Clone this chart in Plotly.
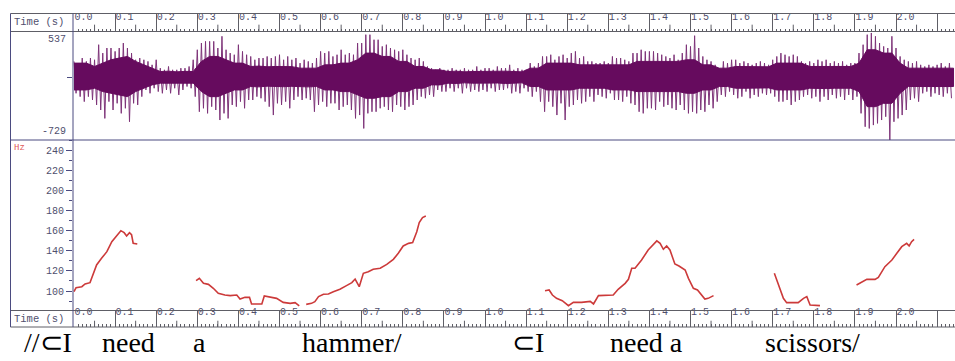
import plotly.graph_objects as go

W, H = 955, 361

# ---------------- data ----------------
# Waveform spike extremes, one pair per 10 ms bin (sample units)
spike_top = [
    188, 168, 227, 188, 227, 207, 383, 285, 344, 344,
    305, 344, 402, 344, 285, 207, 227, 207, 188, 148,
    207, 109, 90, 129, 90, 90, 109, 109, 129, 207,
    324, 402, 422, 422, 422, 344, 481, 324, 285, 266,
    383, 305, 266, 246, 207, 227, 227, 246, 227, 246,
    266, 207, 246, 207, 227, 168, 207, 188, 168, 227,
    305, 285, 305, 246, 266, 324, 266, 285, 266, 402,
    402, 500, 500, 441, 441, 363, 383, 344, 324, 305,
    324, 266, 227, 207, 227, 188, 129, 109, 90, 109,
    90, 90, 109, 90, 90, 109, 90, 90, 129, 90,
    109, 109, 90, 129, 109, 109, 148, 90, 109, 90,
    90, 168, 129, 168, 246, 246, 266, 207, 246, 266,
    227, 285, 305, 227, 246, 188, 188, 168, 168, 188,
    168, 246, 227, 227, 207, 188, 285, 285, 324, 305,
    305, 305, 285, 266, 246, 227, 266, 207, 285, 383,
    363, 488, 344, 246, 207, 188, 148, 109, 188, 168,
    207, 207, 168, 188, 168, 148, 168, 188, 168, 148,
    207, 246, 285, 266, 246, 266, 246, 188, 168, 188,
    168, 207, 188, 207, 168, 188, 168, 188, 148, 168,
    168, 285, 383, 500, 520, 481, 402, 363, 344, 481,
    344, 246, 207, 188, 168, 188, 148, 129, 148, 129,
    148, 168, 129, 168,
]
spike_bot = [
    -184, -223, -281, -223, -262, -320, -379, -477, -281, -379,
    -301, -418, -359, -516, -301, -320, -223, -145, -184, -125,
    -164, -184, -145, -184, -125, -203, -145, -105, -125, -223,
    -399, -359, -418, -340, -379, -496, -418, -477, -320, -340,
    -281, -359, -262, -262, -223, -242, -281, -340, -438, -301,
    -320, -281, -359, -262, -223, -262, -242, -262, -399, -320,
    -281, -340, -301, -301, -379, -340, -320, -379, -477, -438,
    -594, -418, -399, -399, -359, -340, -379, -399, -320, -340,
    -379, -340, -320, -262, -223, -242, -203, -223, -145, -164,
    -164, -125, -164, -125, -184, -125, -164, -145, -164, -145,
    -164, -125, -164, -145, -145, -125, -184, -164, -184, -125,
    -164, -223, -164, -281, -399, -281, -340, -438, -301, -496,
    -340, -320, -262, -301, -281, -223, -281, -203, -223, -242,
    -184, -262, -262, -281, -223, -301, -320, -399, -418, -359,
    -359, -379, -281, -340, -320, -359, -379, -320, -379, -418,
    -399, -418, -379, -399, -320, -359, -281, -203, -223, -164,
    -203, -242, -223, -164, -242, -203, -223, -184, -203, -184,
    -223, -281, -281, -262, -320, -281, -262, -223, -203, -242,
    -223, -281, -223, -262, -203, -242, -223, -262, -203, -262,
    -223, -418, -574, -594, -555, -535, -496, -457, -729, -516,
    -477, -438, -379, -262, -242, -281, -184, -164, -223, -184,
    -203, -223, -184, -242,
]
# Dense core of the waveform, one pair per 20 ms bin
core_top = [
    168, 168, 129, 168, 207, 227, 246, 188, 148, 109,
    70, 74, 66, 72, 70, 188, 246, 246, 207, 168,
    168, 129, 133, 125, 129, 131, 127, 109, 113, 109,
    148, 148, 168, 168, 207, 285, 285, 246, 246, 188,
    188, 129, 129, 90, 90, 70, 74, 66, 70, 72,
    70, 68, 74, 70, 66, 109, 109, 168, 168, 168,
    168, 148, 148, 152, 148, 144, 148, 148, 188, 188,
    188, 188, 188, 188, 207, 207, 148, 148, 109, 109,
    129, 129, 133, 129, 125, 168, 168, 168, 168, 129,
    129, 133, 129, 125, 129, 168, 324, 324, 285, 285,
    168, 109, 109, 113, 109, 105, 109,
]
core_bot = [
    -145, -145, -125, -164, -184, -203, -223, -164, -125, -86,
    -66, -70, -62, -68, -66, -164, -223, -223, -184, -145,
    -145, -105, -109, -101, -105, -107, -103, -105, -109, -105,
    -145, -145, -164, -164, -203, -242, -242, -223, -223, -164,
    -164, -125, -125, -86, -86, -66, -70, -62, -66, -68,
    -66, -64, -70, -66, -62, -105, -105, -145, -145, -145,
    -145, -125, -125, -129, -125, -145, -145, -145, -164, -164,
    -164, -164, -164, -164, -184, -184, -145, -145, -105, -105,
    -125, -125, -129, -125, -121, -145, -145, -145, -145, -125,
    -125, -129, -125, -121, -125, -164, -340, -340, -301, -301,
    -184, -105, -105, -109, -105, -101, -105,
]
wave_min, wave_max = -729, 537

# Pitch track (F0), one list per voiced stretch
f0_time = [
    [0.000, 0.005, 0.019, 0.027, 0.039, 0.045, 0.055, 0.067, 0.080, 0.092,
     0.104, 0.114, 0.122, 0.128, 0.135, 0.140, 0.144, 0.154],
    [0.297, 0.305, 0.315, 0.327, 0.339, 0.351, 0.367, 0.380, 0.396, 0.404,
     0.416, 0.427, 0.432, 0.457, 0.463, 0.477, 0.493, 0.509, 0.526, 0.538, 0.548],
    [0.565, 0.578, 0.586, 0.595, 0.607, 0.619, 0.631, 0.647, 0.663, 0.676,
     0.684, 0.688, 0.694, 0.704, 0.716, 0.728, 0.745, 0.761, 0.777, 0.789,
     0.801, 0.814, 0.824, 0.834, 0.840, 0.848, 0.856],
    [1.146, 1.156, 1.164, 1.174, 1.188, 1.203, 1.215, 1.235, 1.256, 1.264,
     1.276, 1.292, 1.312, 1.324, 1.341, 1.349, 1.357, 1.365, 1.381, 1.397,
     1.410, 1.418, 1.426, 1.434, 1.442, 1.450, 1.462, 1.472, 1.487, 1.495,
     1.507, 1.517, 1.535, 1.543, 1.556],
    [1.704, 1.715, 1.726, 1.734, 1.762, 1.775, 1.783, 1.791, 1.815],
    [1.904, 1.917, 1.929, 1.949, 1.957, 1.973, 1.990, 2.002, 2.014, 2.026,
     2.032, 2.038, 2.044],
]
f0_hz = [
    [99.3, 103.3, 104.3, 107.0, 108.3, 114.3, 125.9, 132.5, 139.1, 149.1,
     155.7, 160.0, 158.0, 154.7, 158.0, 156.0, 147.5, 146.8],
    [110.3, 112.6, 107.6, 106.6, 102.7, 97.7, 96.0, 95.4, 96.0, 92.0,
     93.7, 93.7, 87.1, 87.1, 95.0, 93.7, 92.7, 88.7, 87.7, 88.4, 85.1],
    [86.7, 87.7, 89.4, 94.4, 96.7, 97.0, 99.3, 101.7, 105.3, 108.3,
     111.9, 109.3, 104.3, 117.6, 119.2, 121.6, 122.6, 126.5, 131.5, 137.5,
     144.8, 147.4, 148.1, 159.0, 168.0, 173.0, 174.6],
    [100.3, 101.0, 96.0, 92.7, 90.4, 85.4, 88.7, 88.7, 89.7, 87.1,
     95.4, 96.0, 96.0, 101.7, 107.6, 111.6, 122.6, 122.6, 130.8, 140.8,
     146.8, 149.8, 147.4, 141.5, 144.8, 140.8, 126.9, 124.9, 120.9, 112.6,
     102.7, 101.0, 92.0, 92.7, 95.4],
    [117.6, 104.3, 92.7, 88.4, 88.4, 92.7, 94.4, 86.1, 85.4],
    [106.0, 109.3, 111.6, 111.6, 113.6, 124.2, 130.8, 137.5, 144.1, 147.4,
     144.8, 149.1, 151.4],
]
f0_min, f0_max = 80.6, 250.2
f0_ticks = [100, 120, 140, 160, 180, 200, 220, 240]

# Time ruler: labelled every 100 ms, half marks at 50 ms, fine marks at 10 ms
ruler_major_s = 0.1
ruler_fine_s = 0.01
ruler_half_marks = [round(0.05 + 0.1 * k, 2) for k in range(22)]

words = ["//\u2282I", "need", "a", "hammer/", "\u2282I", "need a", "scissors/"]

# ---------------- geometry helpers (pixels -> paper fractions) ----------------
def fx(px):
    return px / W


def fy(py):
    return 1 - py / H


PX_PER_S = 411.0
LEFT = 73.0
t_lo = -(74.0 - LEFT) / PX_PER_S
t_hi = (W - 74.0) / PX_PER_S

SPIKE_DT = 0.01
CORE_DT = 0.02

FRAME = "#4b4b80"
RULE = "#5e5e66"
LABEL = "#4f4f6e"
MONO = "Liberation Mono, DejaVu Sans Mono, monospace"

# ---------------- traces ----------------
# spikes: zig-zag between each bin's top and bottom extreme
sx, sy = [], []
for k, (hi, lo) in enumerate(zip(spike_top, spike_bot)):
    t = k * SPIKE_DT
    sx += [t, t + SPIKE_DT / 2]
    sy += [hi, lo]

core_t = [CORE_DT / 2 + k * CORE_DT for k in range(len(core_top))]
poly_x = [0.0] + core_t + [core_t[-1] + CORE_DT / 2]
poly_top = [core_top[0]] + core_top + [core_top[-1]]
poly_bot = [core_bot[0]] + core_bot + [core_bot[-1]]

fig = go.Figure()
fig.add_trace(go.Scatter(
    x=sx, y=sy, mode="lines", xaxis="x", yaxis="y",
    line=dict(color="#7e3479", width=1), hoverinfo="skip", showlegend=False,
))
fig.add_trace(go.Scatter(
    x=poly_x + poly_x[::-1], y=poly_top + poly_bot[::-1],
    mode="lines", fill="toself", fillcolor="#660b5e",
    line=dict(color="#660b5e", width=1), xaxis="x", yaxis="y",
    hoverinfo="skip", showlegend=False,
))

px_, py_ = [], []
for ts, hs in zip(f0_time, f0_hz):
    px_ += ts + [None]
    py_ += hs + [None]
fig.add_trace(go.Scatter(
    x=px_, y=py_, mode="lines", xaxis="x2", yaxis="y2",
    line=dict(color="#cc3a3a", width=1.6), connectgaps=False,
    hoverinfo="skip", showlegend=False,
))

# 50 ms marks on both rulers
hx, hy = [], []
for t in ruler_half_marks:
    hx += [t, t, None]
    hy += [0, 0.38, None]
for xa, ya in (("x3", "y3"), ("x4", "y4")):
    fig.add_trace(go.Scatter(
        x=hx, y=hy, mode="lines", xaxis=xa, yaxis=ya,
        line=dict(color=RULE, width=1), hoverinfo="skip", showlegend=False,
    ))

# ---------------- axes ----------------
xdom = [fx(LEFT), 1.0]
hidden_x = dict(domain=xdom, range=[t_lo, t_hi], visible=False, fixedrange=True)


def ruler_axis(anchor):
    return dict(
        domain=xdom, range=[t_lo, t_hi], anchor=anchor, side="bottom",
        tick0=0, dtick=ruler_major_s, tickformat=".1f",
        ticks="inside", ticklen=3, tickcolor=RULE,
        ticklabelposition="inside right", ticklabelstandoff=4,
        tickfont=dict(family=MONO, size=10, color=LABEL),
        showgrid=True, gridcolor=RULE, gridwidth=1,
        minor=dict(tick0=0, dtick=ruler_fine_s, ticks="inside", ticklen=3,
                   tickcolor=RULE, showgrid=False),
        zeroline=False, showline=False, fixedrange=True,
    )


fig.update_layout(
    width=W, height=H,
    margin=dict(l=0, r=0, t=0, b=0),
    paper_bgcolor="white", plot_bgcolor="white",
    showlegend=False,
    xaxis=dict(hidden_x, anchor="y"),
    yaxis=dict(
        domain=[fy(140), fy(31.5)], range=[wave_min, wave_max], anchor="x",
        tickvals=[0], ticks="outside", ticklen=5, tickcolor=FRAME,
        showticklabels=False, showgrid=False, zeroline=False, showline=False,
        fixedrange=True,
    ),
    xaxis2=dict(hidden_x, anchor="y2"),
    yaxis2=dict(
        domain=[fy(310.5), fy(140)], range=[f0_min, f0_max], anchor="x2",
        tickvals=f0_ticks, ticks="outside", ticklen=6, tickcolor=FRAME,
        tickfont=dict(family=MONO, size=10, color=LABEL),
        minor=dict(tick0=0, dtick=10, ticks="outside", ticklen=3,
                   tickcolor=FRAME, showgrid=False),
        showgrid=False, zeroline=False, showline=False, fixedrange=True,
    ),
    xaxis3=ruler_axis("y3"),
    yaxis3=dict(domain=[fy(31.5), fy(13.5)], range=[0, 1], anchor="x3",
                visible=False, fixedrange=True),
    xaxis4=ruler_axis("y4"),
    yaxis4=dict(domain=[fy(327), fy(310.5)], range=[0, 1], anchor="x4",
                visible=False, fixedrange=True),
)

# ---------------- frame ----------------
shapes = []


def hline(y, color, x0=10.5):
    shapes.append(dict(type="line", xref="paper", yref="paper",
                       x0=fx(x0), x1=1.0, y0=fy(y), y1=fy(y),
                       line=dict(color=color, width=1)))


def vline(x, y0, y1, color):
    shapes.append(dict(type="line", xref="paper", yref="paper",
                       x0=fx(x), x1=fx(x), y0=fy(y0), y1=fy(y1),
                       line=dict(color=color, width=1)))


hline(13.5, RULE)
hline(31.5, RULE)
hline(140, FRAME)
hline(310.5, RULE)
hline(327, RULE)
vline(10.5, 13.5, 327, FRAME)
vline(LEFT, 13.5, 327, FRAME)
fig.update_layout(shapes=shapes)

# ---------------- labels ----------------
ann = []
ann.append(dict(text=str(wave_max), x=fx(68), xref="paper", xanchor="right",
                y=wave_max, yref="y", yanchor="top", yshift=-1,
                showarrow=False, font=dict(family=MONO, size=10, color=LABEL)))
ann.append(dict(text=str(wave_min), x=fx(68), xref="paper", xanchor="right",
                y=wave_min, yref="y", yanchor="bottom", yshift=1,
                showarrow=False, font=dict(family=MONO, size=10, color=LABEL)))
ann.append(dict(text="Hz", x=fx(12), xref="paper", xanchor="left",
                y=fy(148), yref="paper", yanchor="middle",
                showarrow=False, font=dict(family=MONO, size=9, color="#e05a5a")))
for yy in (22.5, 318.5):
    ann.append(dict(text="Time (s)", x=fx(12), xref="paper", xanchor="left",
                    y=fy(yy), yref="paper", yanchor="middle",
                    showarrow=False,
                    font=dict(family=MONO, size=10.5, color=LABEL)))

word_left_px = [22, 100, 191, 300, 510, 608, 763]
for wtxt, wx in zip(words, word_left_px):
    ann.append(dict(text=wtxt, x=fx(wx), xref="paper", xanchor="left",
                    y=fy(360), yref="paper", yanchor="bottom",
                    showarrow=False,
                    font=dict(family="Liberation Serif, Times New Roman, serif",
                              size=28, color="black")))
fig.update_layout(annotations=ann)

fig.write_html("out.html")
